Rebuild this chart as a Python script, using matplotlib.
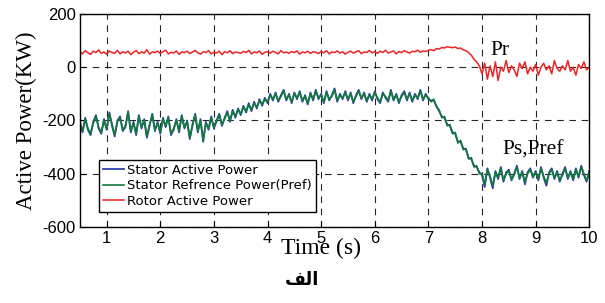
import numpy as np
import matplotlib.pyplot as plt

# time axis: 0.5 s .. 10 s every 0.05 s
t = np.round(np.arange(0.5, 10.0001, 0.05), 2)

pref = [
    -205, -240, -195, -230, -250, -210, -185, -225, -245, -200,
    -230, -175, -215, -255, -205, -190, -235, -220, -170, -240,
    -210, -250, -185, -225, -200, -260, -215, -180, -235, -210,
    -245, -195, -220, -190, -250, -230, -200, -240, -185, -225,
    -205, -265, -215, -180, -240, -200, -275, -210, -230, -190,
    -225, -205, -180, -215, -195, -170, -200, -165, -185, -160,
    -175, -150, -165, -140, -160, -135, -150, -125, -140, -120,
    -130, -105, -120, -100, -125, -110, -90, -120, -105, -130,
    -100, -115, -95, -125, -110, -135, -100, -120, -90, -115,
    -105, -130, -95, -120, -110, -85, -125, -105, -115, -95,
    -120, -100, -130, -110, -90, -115, -100, -125, -105, -120,
    -95, -115, -130, -100, -110, -125, -90, -120, -105, -130,
    -110, -95, -120, -100, -125, -105, -115, -90, -120, -105,
    -115, -130, -120, -150, -160, -190, -185, -220, -215, -250,
    -245, -285, -275, -310, -305, -345, -340, -375, -370, -400,
    -400, -440, -385, -410, -445, -395, -415, -380, -425, -400,
    -390, -420, -405, -375, -415, -395, -430, -400, -385, -410,
    -395, -420, -380, -410, -435, -400, -385, -415, -395, -425,
    -405, -380, -415, -395, -420, -385, -410, -375, -400, -425,
    -395,
]

stator = [
    -210, -245, -190, -235, -255, -205, -180, -230, -250, -195,
    -235, -170, -220, -260, -200, -185, -240, -225, -165, -245,
    -205, -255, -180, -230, -195, -265, -220, -175, -240, -205,
    -250, -190, -225, -185, -255, -235, -195, -245, -180, -230,
    -200, -270, -220, -175, -245, -195, -280, -205, -235, -185,
    -230, -200, -175, -220, -190, -165, -205, -160, -190, -155,
    -180, -145, -170, -135, -165, -130, -155, -120, -145, -115,
    -135, -100, -125, -95, -130, -105, -85, -125, -100, -135,
    -95, -120, -90, -130, -105, -140, -95, -125, -85, -120,
    -100, -135, -90, -125, -105, -80, -130, -100, -120, -90,
    -125, -95, -135, -105, -85, -120, -95, -130, -100, -125,
    -90, -120, -135, -95, -115, -130, -85, -125, -100, -135,
    -105, -90, -125, -95, -130, -100, -120, -85, -125, -100,
    -120, -125, -125, -145, -165, -185, -190, -215, -220, -245,
    -250, -280, -280, -305, -310, -340, -345, -370, -375, -395,
    -405, -450, -380, -415, -455, -390, -420, -375, -430, -395,
    -385, -425, -400, -370, -420, -390, -440, -395, -380, -415,
    -390, -425, -375, -415, -445, -395, -380, -420, -390, -430,
    -400, -375, -420, -390, -425, -380, -415, -370, -405, -430,
    -390,
]

rotor = [
    58, 50, 62, 54, 48, 60, 55, 65, 52, 57,
    49, 61, 55, 52, 63, 50, 58, 54, 60, 47,
    56, 62, 51, 58, 53, 66, 49, 57, 55, 60,
    52, 58, 64, 50, 56, 53, 61, 48, 57, 55,
    60, 51, 57, 63, 54, 49, 58, 55, 62, 50,
    56, 53, 60, 47, 58, 54, 62, 51, 57, 55,
    52, 59, 55, 63, 50, 57, 54, 61, 48, 56,
    58, 53, 60, 55, 50, 62, 54, 57, 52, 59,
    55, 61, 49, 57, 54, 60, 52, 58, 56, 51,
    59, 54, 62, 50, 57, 55, 61, 53, 58, 49,
    56, 60, 53, 58, 62, 51, 57, 55, 63, 54,
    58, 52, 60, 55, 64, 53, 57, 61, 50, 59,
    55, 62, 57, 53, 60, 58, 64, 56, 61, 59,
    63, 66, 62, 70, 68, 74, 72, 77, 75, 73,
    76, 70, 72, 65, 62, 55, 45, 30, 20, 5,
    -25, 15, -45, 5, -35, 20, -50, 0, -15, 25,
    -20, 5, -10, -35, 15, -5, 20, -25, 0, -15,
    10, -30, 0, 15, -10, 5, -25, 25, -5, -15,
    5, -10, 25, -15, 0, -30, 10, -5, 20, -10,
    0,
]

plt.rcParams['font.family'] = ['Liberation Sans', 'DejaVu Sans']
plt.rcParams['axes.unicode_minus'] = False

fig = plt.figure(figsize=(6.05, 3.03), dpi=100)
ax = fig.add_axes([0.132, 0.251, 0.842, 0.703])

ax.plot(t, stator, color='#2a3fa8', linewidth=1.3, label='Stator Active Power')
ax.plot(t, pref, color='#127a3a', linewidth=1.2, label='Stator Refrence Power(Pref)')
ax.plot(t, rotor, color='#ee2222', linewidth=1.1, label='Rotor Active Power')

ax.set_xlim(0.5, 10)
ax.set_ylim(-600, 200)
ax.set_xticks(range(1, 11))
ax.set_yticks([-600, -400, -200, 0, 200])
ax.tick_params(direction='in', labelsize=12, length=4, pad=3)
ax.grid(True, color='black', linestyle=(0, (6, 5)), linewidth=0.8, alpha=0.85)
for s in ax.spines.values():
    s.set_linewidth(1.0)

ax.set_ylabel('Active Power(KW)', family='Liberation Serif', fontsize=16.5, labelpad=4)
fig.text(0.53, 0.18, 'Time (s)', family='Liberation Serif', fontsize=17,
         ha='center', va='center')

ax.text(8.34, 64, 'Pr', family='Liberation Serif', fontsize=15.5, ha='center', va='center')
ax.text(8.95, -313, 'Ps,Pref', family='Liberation Serif', fontsize=15.5, ha='center', va='center')

leg = ax.legend(loc='lower left', bbox_to_anchor=(0.025, 0.04),
                prop={'family': 'DejaVu Sans', 'size': 9.5},
                handlelength=1.6, handletextpad=0.2, borderpad=0.3,
                labelspacing=0.2, fancybox=False, framealpha=1)
leg.get_frame().set_edgecolor('black')
leg.get_frame().set_linewidth(1.0)

# "الف" in presentation forms (visual order)
fig.text(0.5, 0.06, '\ufed2\ufedf\ufe8d', family='DejaVu Sans', fontsize=13,
         fontweight='bold', ha='center', va='baseline')

fig.savefig('out.png', dpi=100)
